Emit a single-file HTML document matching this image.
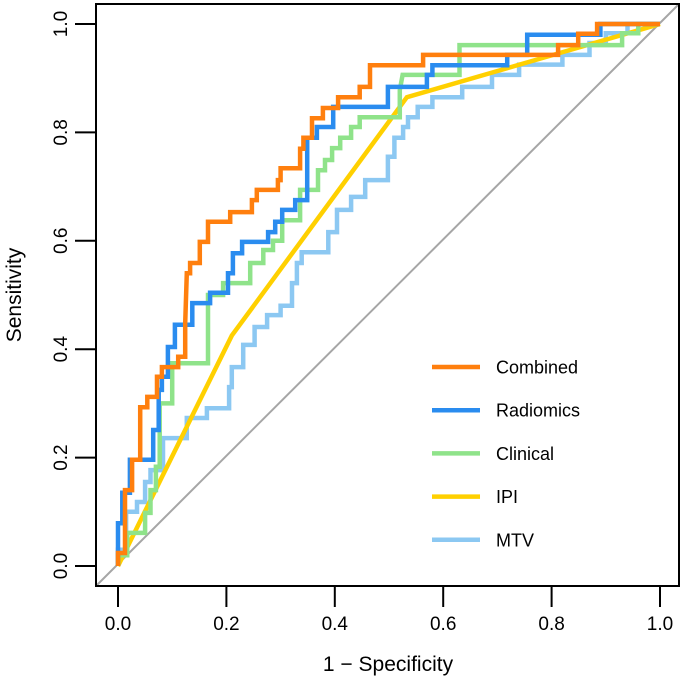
<!DOCTYPE html>
<html><head><meta charset="utf-8"><style>
html,body{margin:0;padding:0;background:#fff;}
svg{display:block;font-family:"Liberation Sans",Arial,sans-serif;}
</style></head><body>
<svg id="chart" width="685" height="682" viewBox="0 0 685 682"></svg>
<script>
const xTicks=[0,0.2,0.4,0.6,0.8,1.0];
const yTicks=[0,0.2,0.4,0.6,0.8,1.0];
const tickLabels=["0.0","0.2","0.4","0.6","0.8","1.0"];
const seriesNames=["Combined","Radiomics","Clinical","IPI","MTV"];
const seriesColors=["#ff7f0e","#2a8cef","#8fe38a","#ffd000","#8cc8f2"];
// vertices [fpr, tpr]
const combinedPts=[[0,0],[0,0.024],[0.013,0.024],[0.013,0.14],[0.026,0.14],[0.026,0.196],[0.041,0.196],[0.041,0.293],[0.054,0.293],[0.054,0.312],[0.072,0.312],[0.072,0.349],[0.081,0.349],[0.081,0.367],[0.111,0.367],[0.111,0.386],[0.124,0.386],[0.124,0.448],[0.127,0.54],[0.133,0.54],[0.133,0.559],[0.151,0.559],[0.151,0.598],[0.166,0.598],[0.166,0.635],[0.207,0.635],[0.207,0.653],[0.247,0.653],[0.247,0.675],[0.256,0.675],[0.256,0.694],[0.295,0.694],[0.295,0.712],[0.30,0.712],[0.30,0.734],[0.336,0.734],[0.336,0.77],[0.342,0.77],[0.342,0.79],[0.358,0.79],[0.358,0.826],[0.378,0.826],[0.378,0.845],[0.406,0.845],[0.406,0.865],[0.446,0.865],[0.446,0.884],[0.465,0.884],[0.465,0.924],[0.563,0.924],[0.563,0.943],[0.812,0.943],[0.812,0.961],[0.849,0.961],[0.849,0.982],[0.884,0.982],[0.884,1],[1,1]];
const radiomicsPts=[[0,0],[0,0.079],[0.008,0.079],[0.008,0.135],[0.022,0.135],[0.022,0.196],[0.065,0.196],[0.065,0.251],[0.075,0.251],[0.075,0.325],[0.081,0.325],[0.081,0.349],[0.092,0.349],[0.092,0.404],[0.105,0.404],[0.105,0.445],[0.137,0.445],[0.137,0.485],[0.17,0.485],[0.17,0.504],[0.203,0.504],[0.203,0.54],[0.212,0.54],[0.212,0.577],[0.229,0.577],[0.229,0.598],[0.277,0.598],[0.277,0.616],[0.29,0.616],[0.29,0.635],[0.303,0.635],[0.303,0.657],[0.327,0.657],[0.327,0.675],[0.349,0.675],[0.349,0.79],[0.367,0.79],[0.367,0.81],[0.397,0.81],[0.397,0.847],[0.498,0.847],[0.498,0.884],[0.57,0.884],[0.57,0.906],[0.58,0.906],[0.58,0.924],[0.718,0.924],[0.718,0.943],[0.755,0.943],[0.755,0.98],[0.89,0.98],[0.89,1],[1,1]];
const clinicalPts=[[0,0],[0,0.02],[0.017,0.02],[0.017,0.061],[0.05,0.061],[0.05,0.098],[0.06,0.098],[0.06,0.14],[0.07,0.14],[0.07,0.183],[0.077,0.183],[0.077,0.3],[0.1,0.3],[0.1,0.374],[0.166,0.374],[0.166,0.5],[0.194,0.5],[0.194,0.522],[0.244,0.522],[0.244,0.559],[0.268,0.559],[0.268,0.583],[0.286,0.583],[0.286,0.6],[0.303,0.6],[0.303,0.638],[0.336,0.638],[0.336,0.694],[0.369,0.694],[0.369,0.73],[0.382,0.73],[0.382,0.749],[0.395,0.749],[0.395,0.771],[0.41,0.771],[0.41,0.79],[0.43,0.79],[0.43,0.81],[0.446,0.81],[0.446,0.828],[0.52,0.828],[0.52,0.878],[0.525,0.906],[0.63,0.906],[0.63,0.961],[0.93,0.961],[0.93,0.983],[0.96,0.983],[0.96,1],[1,1]];
const ipiPts=[[0,0],[0.21,0.425],[0.533,0.865],[1,1]];
const mtvPts=[[0,0],[0,0.03],[0.015,0.03],[0.015,0.1],[0.035,0.1],[0.035,0.118],[0.05,0.118],[0.05,0.155],[0.06,0.155],[0.06,0.177],[0.083,0.177],[0.083,0.236],[0.127,0.236],[0.127,0.273],[0.164,0.273],[0.164,0.291],[0.205,0.291],[0.205,0.33],[0.21,0.33],[0.21,0.367],[0.231,0.367],[0.231,0.408],[0.252,0.408],[0.252,0.441],[0.275,0.441],[0.275,0.463],[0.3,0.463],[0.3,0.48],[0.321,0.48],[0.321,0.522],[0.33,0.522],[0.33,0.559],[0.339,0.559],[0.339,0.579],[0.388,0.579],[0.388,0.616],[0.404,0.616],[0.404,0.657],[0.43,0.657],[0.43,0.681],[0.456,0.681],[0.456,0.712],[0.498,0.712],[0.498,0.755],[0.51,0.755],[0.51,0.79],[0.526,0.79],[0.526,0.81],[0.535,0.81],[0.535,0.828],[0.553,0.828],[0.553,0.847],[0.58,0.847],[0.58,0.865],[0.635,0.865],[0.635,0.884],[0.69,0.884],[0.69,0.906],[0.74,0.906],[0.74,0.925],[0.82,0.925],[0.82,0.943],[0.87,0.943],[0.87,0.965],[0.9,0.965],[0.9,0.983],[0.94,0.983],[0.94,1],[1,1]];

const NS="http://www.w3.org/2000/svg";
const svg=document.getElementById('chart');
const X0=118,X1=660,Y0=566,Y1=24;
function sx(v){return X0+v*(X1-X0);}
function sy(v){return Y0-v*(Y0-Y1);}
function mk(tag,attrs){const e=document.createElementNS(NS,tag);for(const k in attrs)e.setAttribute(k,attrs[k]);svg.appendChild(e);return e;}

let diag=mk('line',{x1:96,y1:586,x2:679,y2:4,stroke:'#a6a6a6','stroke-width':2});



const allPts=[combinedPts,radiomicsPts,clinicalPts,ipiPts,mtvPts];
const drawOrder=[4,3,2,1,0];
drawOrder.forEach(i=>{
  const d=allPts[i].map((p,j)=>(j?'L':'M')+sx(p[0]).toFixed(1)+' '+sy(p[1]).toFixed(1)).join(' ');
  const p=mk('path',{d:d,fill:'none',stroke:seriesColors[i],'stroke-width':4.5,'stroke-linejoin':'miter'});
  
  
});

let box=mk('rect',{x:96,y:4,width:583,height:582,fill:'none',stroke:'#000','stroke-width':2});



xTicks.forEach((v,i)=>{
  let t=mk('line',{x1:sx(v),y1:586,x2:sx(v),y2:607,stroke:'#000','stroke-width':2});
  
  
  let l=mk('text',{x:sx(v),y:630,'text-anchor':'middle','font-size':19});
  l.textContent=tickLabels[i];
  
  
});
yTicks.forEach((v,i)=>{
  let t=mk('line',{x1:75,y1:sy(v),x2:96,y2:sy(v),stroke:'#000','stroke-width':2});
  
  
  let l=mk('text',{x:0,y:0,'text-anchor':'middle','font-size':19,transform:'translate(67,'+sy(v)+') rotate(-90)'});
  l.textContent=tickLabels[i];
  
  
});
let xt=mk('text',{x:388,y:671,'text-anchor':'middle','font-size':21});
xt.textContent='1 \u2212 Specificity';


let yt=mk('text',{x:0,y:0,'text-anchor':'middle','font-size':21,transform:'translate(21,295) rotate(-90)'});
yt.textContent='Sensitivity';



seriesNames.forEach((n,i)=>{
  const y=367+i*43.2;
  let ln=mk('line',{x1:432,y1:y,x2:480,y2:y,stroke:seriesColors[i],'stroke-width':4.5});
  
  
  let tx=mk('text',{x:496,y:y+6.5,'font-size':18});
  tx.textContent=n;
  
  
});
</script>
</body></html>
